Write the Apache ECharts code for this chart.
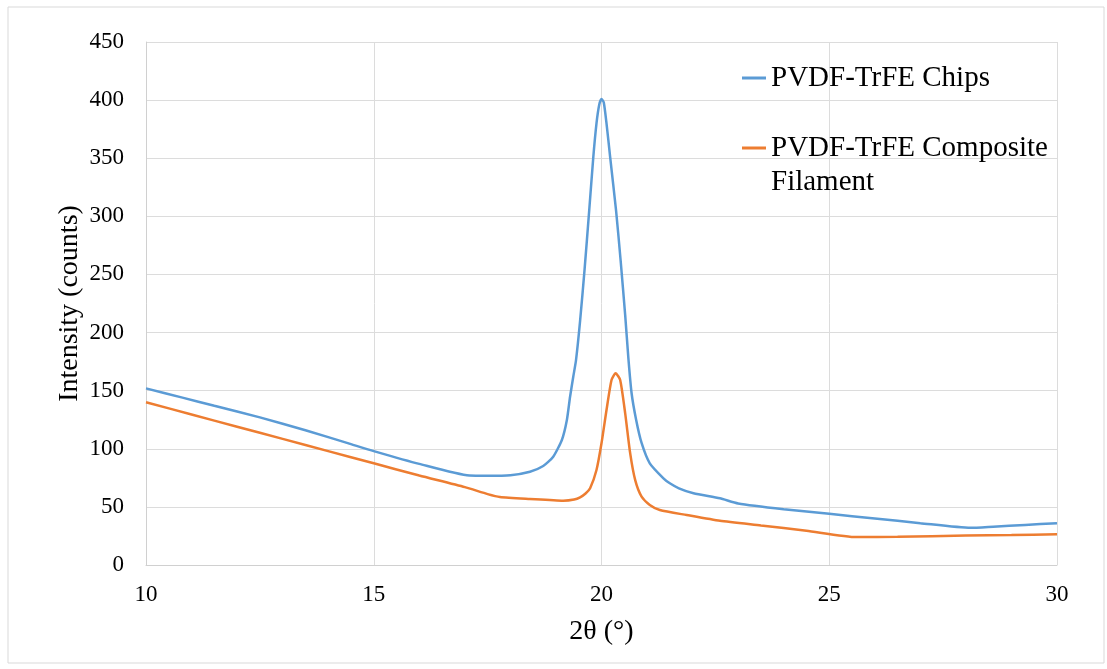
<!DOCTYPE html>
<html>
<head>
<meta charset="utf-8">
<script src="https://cdn.jsdelivr.net/npm/echarts@6/dist/echarts.min.js"></script>
<style>html,body{margin:0;padding:0;background:#fff;}#c{width:1107px;height:669px;}</style>
</head>
<body>
<div id="c"></div>
<script>
const chipsTheta = [10,10.8,11.5,12.5,13.5,14.5,15,16,17.1,17.5,18.0,18.43,18.72,18.94,19.13,19.24,19.31,19.38,19.44,19.53,19.63,19.73,19.82,19.89,19.95,20.0,20.05,20.11,20.19,20.32,20.42,20.52,20.59,20.66,20.76,20.88,21.06,21.36,21.5,21.7,22.02,22.6,23,24,25,26,27,28.1,28.6,29.3,30];
const chipsIntensity = [152,144,137,127,116,104,98,87,77,76.8,77.3,80.3,85.2,93.2,107.6,124.8,144.8,162,176,210,255,305,351,380,396,401,398,380,351,305,262,215,178,148,125,105,87.5,74.6,70.3,66,61.7,57.4,53,48,44,40,36,32,33,34.5,36];
const filTheta = [10,11,12,13,14,15,16,17,17.5,17.77,18.43,19.16,19.4,19.53,19.65,19.75,19.89,20.0,20.11,20.22,20.31,20.41,20.52,20.63,20.74,20.88,21.06,21.28,21.87,22.6,23.5,24.5,25.6,26.5,28,29,30];
const filIntensity = [140,129.5,119,108.5,98,87.5,77,67,61,58.5,56.8,55.3,56.3,58.2,61.5,66,81.7,104.7,133.4,159.2,165,159.2,130.5,96,73,58.8,51.6,47.3,43,38,34,29.5,24,24.3,25.3,25.8,26.5];
const seriesNames = ['PVDF-TrFE Chips','PVDF-TrFE Composite Filament'];
const xTitle = '2θ (°)';
const yTitle = 'Intensity (counts)';

const pairs = (xs, ys) => xs.map((x, i) => [x, ys[i]]);
const FONT = 'Liberation Serif';
const chart = echarts.init(document.getElementById('c'));
chart.setOption({
  animation: false,
  backgroundColor: '#fff',
  graphic: [{type:'rect', shape:{x:8,y:7,width:1096,height:656}, style:{fill:'none', stroke:'#d9d9d9', lineWidth:1}, silent:true}],
  grid: {left:146, right:50, top:42, bottom:104},
  legend: [
    {data:[seriesNames[0]], orient:'vertical', left:742, top:61, padding:0, itemWidth:24, itemHeight:3, icon:'rect',
     textStyle:{fontFamily:FONT, fontSize:29, color:'#000', lineHeight:34}},
    {data:[seriesNames[1]], orient:'vertical', left:742, top:97, padding:0, itemWidth:24, itemHeight:3, icon:'rect',
     formatter: () => ' \nPVDF-TrFE Composite\nFilament',
     textStyle:{fontFamily:FONT, fontSize:29, color:'#000', lineHeight:34}}
  ],
  xAxis: {type:'value', min:10, max:30, interval:5, name:xTitle, nameLocation:'middle', nameGap:53, nameMoveOverlap:false,
    nameTextStyle:{fontFamily:FONT, fontSize:28, color:'#000'},
    axisLine:{show:true, lineStyle:{color:'#d0d0d0', width:1}}, axisTick:{show:false},
    axisLabel:{fontFamily:FONT, fontSize:23, color:'#000', margin:18},
    splitLine:{show:true, lineStyle:{color:'#dcdcdc', width:1}}},
  yAxis: {type:'value', min:0, max:450, interval:50, name:yTitle, nameLocation:'middle', nameGap:62, nameMoveOverlap:false,
    nameTextStyle:{fontFamily:FONT, fontSize:28, color:'#000'},
    axisLine:{show:true, lineStyle:{color:'#d0d0d0', width:1}}, axisTick:{show:false},
    axisLabel:{fontFamily:FONT, fontSize:23, color:'#000', margin:22},
    splitLine:{show:true, lineStyle:{color:'#dcdcdc', width:1}}},
  series: [
    {name:seriesNames[0], type:'line', data:pairs(chipsTheta, chipsIntensity), showSymbol:false, smooth:0.2,
     lineStyle:{color:'#5B9BD5', width:2.5}, itemStyle:{color:'#5B9BD5'}},
    {name:seriesNames[1], type:'line', data:pairs(filTheta, filIntensity), showSymbol:false, smooth:0.2,
     lineStyle:{color:'#ED7D31', width:2.5}, itemStyle:{color:'#ED7D31'}}
  ]
});
</script>
</body>
</html>
